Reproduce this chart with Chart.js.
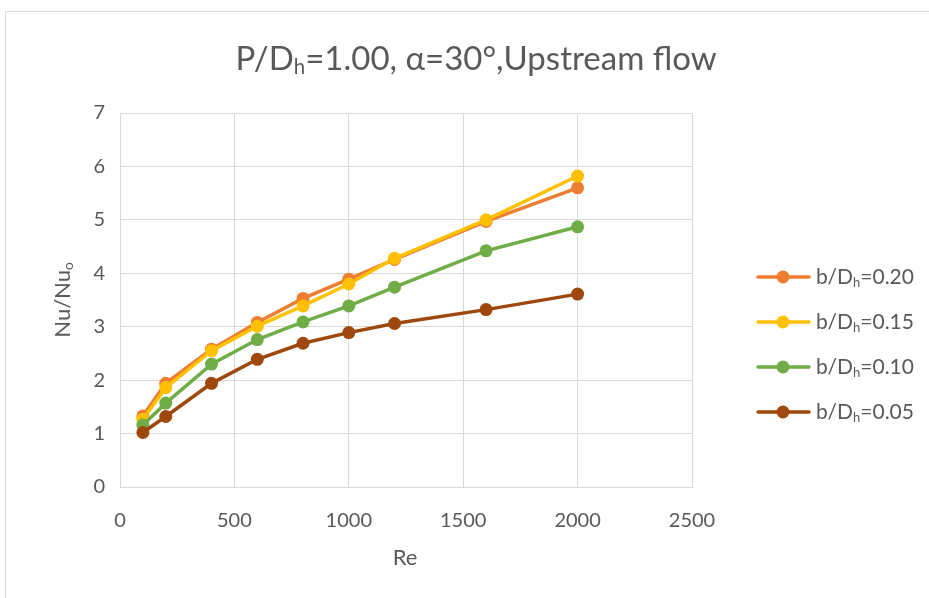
<!DOCTYPE html>
<html>
<head>
<meta charset="utf-8">
<script src="https://cdn.jsdelivr.net/npm/chart.js@4/dist/chart.umd.min.js"></script>
<style>
  body { margin: 0; background: #fff; }
  #frame { position: absolute; left: 5px; top: 11px; width: 1000px; height: 700px; border: 1px solid #d9d9d9; }
  #wrap { position: absolute; left: 0; top: 0; width: 929px; height: 598px; }
</style>
</head>
<body>
<div id="frame"></div>
<div id="wrap"><canvas id="grafico"></canvas></div>
<script>
// dados
const reValores = [100, 200, 400, 600, 800, 1000, 1200, 1600, 2000];
const nu020 = [1.33, 1.94, 2.58, 3.08, 3.53, 3.89, 4.26, 4.97, 5.60];
const nu015 = [1.27, 1.86, 2.55, 3.01, 3.39, 3.80, 4.28, 5.00, 5.82];
const nu010 = [1.16, 1.57, 2.30, 2.76, 3.09, 3.39, 3.74, 4.42, 4.87];
const nu005 = [1.02, 1.32, 1.94, 2.39, 2.69, 2.89, 3.06, 3.32, 3.61];
const legendas = ["0.20", "0.15", "0.10", "0.05"];
const cores = ["#ED7D31", "#FFC000", "#70AD47", "#9E480E"];

const fonte = "Lato, 'DejaVu Sans', sans-serif";
const cinza = "#595959";

// desenha texto com partes em subscrito: [["P/D"], ["h", true], ...]
function textoRico(ctx, partes, x, y, tam, alinhar) {
  ctx.save();
  ctx.textBaseline = "alphabetic";
  ctx.textAlign = "left";
  let total = 0;
  partes.forEach(p => {
    ctx.font = (p[1] ? tam * 0.62 : tam) + "px " + fonte;
    total += ctx.measureText(p[0]).width;
  });
  let cx = x;
  if (alinhar === "center") cx = x - total / 2;
  partes.forEach(p => {
    ctx.font = (p[1] ? tam * 0.62 : tam) + "px " + fonte;
    ctx.fillText(p[0], cx, y + (p[1] ? tam * 0.12 : 0));
    cx += ctx.measureText(p[0]).width;
  });
  ctx.restore();
}

const serieDados = [nu020, nu015, nu010, nu005];

const extras = {
  id: "extras",
  afterDraw(chart) {
    const ctx = chart.ctx;
    ctx.fillStyle = cinza;
    // título
    textoRico(ctx, [["P/D"], ["h", true], ["=1.00, α=30°,Upstream flow"]], 476, 70, 33, "center");
    // título eixo x
    textoRico(ctx, [["Re"]], 405, 565, 22, "center");
    // título eixo y
    ctx.save();
    ctx.translate(70, 300);
    ctx.rotate(-Math.PI / 2);
    ctx.fillStyle = cinza;
    textoRico(ctx, [["Nu/Nu"], ["o", true]], 0, 0, 22, "center");
    ctx.restore();
    // legenda
    chart.data.datasets.forEach((ds, i) => {
      const y = 277 + i * 45;
      ctx.save();
      ctx.strokeStyle = ds.borderColor;
      ctx.lineWidth = 3.5;
      ctx.lineCap = "round";
      ctx.beginPath();
      ctx.moveTo(758, y);
      ctx.lineTo(809, y);
      ctx.stroke();
      ctx.fillStyle = ds.borderColor;
      ctx.beginPath();
      ctx.arc(783, y, 6.5, 0, Math.PI * 2);
      ctx.fill();
      ctx.restore();
      ctx.fillStyle = cinza;
      textoRico(ctx, [["b/D"], ["h", true], ["=" + legendas[i]]], 816, y + 7, 21, "left");
    });
  }
};

const conjuntos = serieDados.map((serie, i) => ({
  label: "b/Dh=" + legendas[i],
  data: reValores.map((re, k) => ({ x: re, y: serie[k] })),
  borderColor: cores[i],
  backgroundColor: cores[i],
  borderWidth: 3.5,
  pointRadius: 6.5,
  pointBorderWidth: 0,
  pointHoverRadius: 6.5,
  tension: 0,
  order: 3 - i
}));

new Chart(document.getElementById("grafico"), {
  type: "line",
  data: { datasets: conjuntos },
  options: {
    responsive: true,
    maintainAspectRatio: false,
    animation: false,
    layout: { padding: { left: 0, right: 237, top: 113, bottom: 0 } },
    plugins: { legend: { display: false }, title: { display: false }, tooltip: { enabled: false } },
    scales: {
      x: {
        type: "linear",
        min: 0, max: 2500,
        ticks: { stepSize: 500, color: cinza, font: { family: fonte, size: 20 }, padding: 22, maxRotation: 0,
                 callback: v => String(v) },
        grid: { color: "#d9d9d9", drawTicks: false },
        border: { color: "#d9d9d9" },
        afterFit: s => { s.height = 111; }
      },
      y: {
        min: 0, max: 7,
        ticks: { stepSize: 1, color: cinza, font: { family: fonte, size: 20 }, padding: 15 },
        grid: { color: "#d9d9d9", drawTicks: false },
        border: { color: "#d9d9d9" },
        afterFit: s => { s.width = 120; }
      }
    }
  },
  plugins: [extras]
});
</script>
</body>
</html>
